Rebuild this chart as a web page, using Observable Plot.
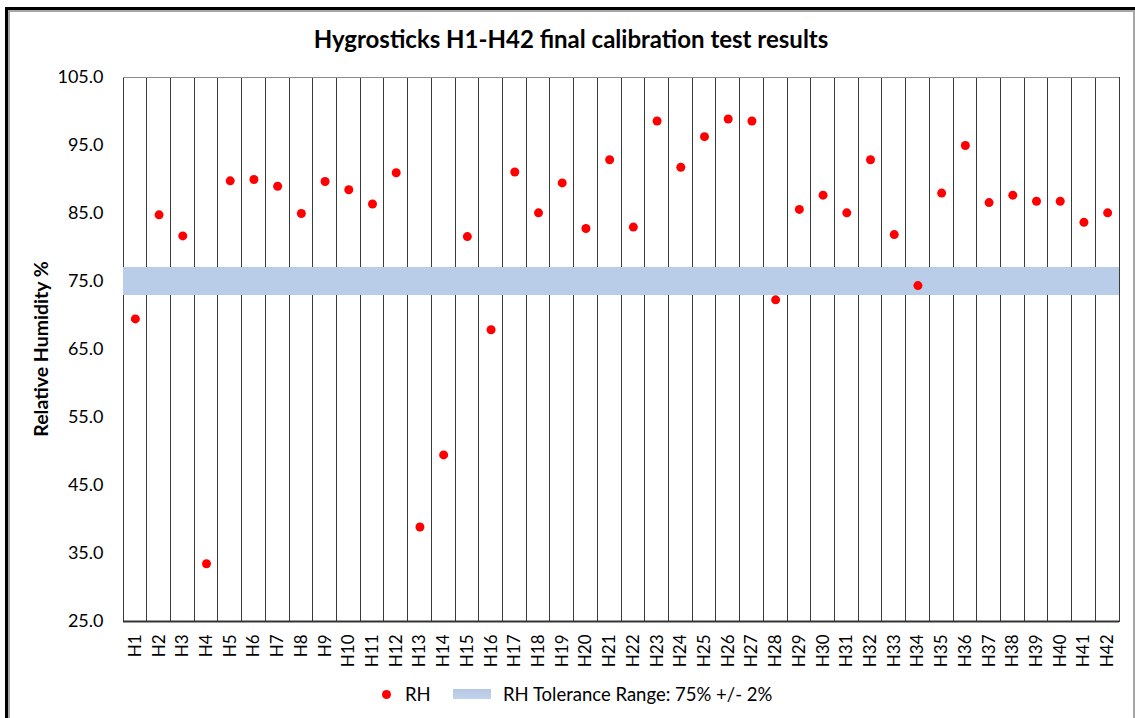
<!DOCTYPE html>
<html>
<head>
<meta charset="utf-8">
<script src="https://cdn.jsdelivr.net/npm/d3@7"></script>
<script src="https://cdn.jsdelivr.net/npm/@observablehq/plot@0.6"></script>
<style>
  body { margin: 0; background: #fff; }
  #wrap { position: relative; width: 1135px; height: 718px; overflow: hidden; background: #fff; font-family: Lato, "Open Sans", sans-serif; }
  #chart { position: absolute; left: 0; top: 0; }
  .abs { position: absolute; white-space: nowrap; line-height: 1; color: #000; }
</style>
</head>
<body>
<div id="wrap">
  <div id="chart"></div>
  <div class="abs" style="left:5px;top:7px;width:2000px;height:2000px;border-top:3px solid #000;border-left:3px solid #000;"></div>
  <div class="abs" style="left:8px;top:10px;width:1127px;height:1000px;box-sizing:border-box;border:2px solid #a6a6a6;"></div>
  <div class="abs" id="title" style="left:571px;top:27px;transform:translateX(-50%);font-weight:700;font-size:24px;">Hygrosticks H1-H42 final calibration test results</div>
  <div class="abs" id="ylabel" style="left:40.5px;top:348.5px;transform:translate(-50%,-50%) rotate(-90deg);font-weight:700;font-size:19.5px;">Relative Humidity %</div>
  <div class="abs" style="left:382.2px;top:689.5px;width:9px;height:9px;border-radius:50%;background:#ff0000;"></div>
  <div class="abs" style="left:405px;top:685px;font-size:18.5px;">RH</div>
  <div class="abs" style="left:453px;top:689px;width:38px;height:10px;background:linear-gradient(#b4c7e4,#c1d3ec);"></div>
  <div class="abs" style="left:503px;top:685px;font-size:18.5px;">RH Tolerance Range: 75% +/- 2%</div>
</div>
<script>
const categories = ["H1","H2","H3","H4","H5","H6","H7","H8","H9","H10","H11","H12","H13","H14","H15","H16","H17","H18","H19","H20","H21","H22","H23","H24","H25","H26","H27","H28","H29","H30","H31","H32","H33","H34","H35","H36","H37","H38","H39","H40","H41","H42"];
const rhValues = [69.5,84.8,81.7,33.5,89.8,90.0,89.0,85.0,89.7,88.5,86.4,91.0,38.9,49.5,81.6,67.9,91.1,85.1,89.5,82.8,92.9,83.0,98.6,91.8,96.3,98.9,98.6,72.3,85.6,87.7,85.1,92.9,81.9,74.4,88.0,95.0,86.6,87.7,86.8,86.8,83.7,85.1];
const yTicks = [25,35,45,55,65,75,85,95,105];
const yDomain = [25,105];
const toleranceLow = 73;
const toleranceHigh = 77;

const data = categories.map((c, i) => ({id: c, rh: rhValues[i]}));

const chart = Plot.plot({
  width: 1135,
  height: 680,
  marginTop: 77,
  marginBottom: 59,
  marginLeft: 123,
  marginRight: 16,
  style: {background: "transparent", fontFamily: "Lato, 'Open Sans', sans-serif", fontSize: "18px", color: "#000"},
  x: {type: "band", domain: categories, padding: 0},
  y: {domain: yDomain},
  marks: [
    Plot.barY(categories, {x: d => d, y1: yDomain[0], y2: yDomain[1], fill: "none", stroke: "#3a3a3a", strokeWidth: 1, shapeRendering: "crispEdges"}),
    Plot.barY(categories, {x: d => d, y1: toleranceLow, y2: toleranceHigh, fill: "#b9cce8", shapeRendering: "crispEdges"}),
    Plot.ruleY([yDomain[1]], {stroke: "#8c8c8c", strokeWidth: 1, shapeRendering: "crispEdges"}),
    Plot.ruleY([yDomain[0]], {stroke: "#333", strokeWidth: 2}),
    Plot.axisY({ticks: yTicks, tickFormat: d => d.toFixed(1), tickSize: 0, tickPadding: 20, label: null, fontSize: 18}),
    Plot.axisX({tickRotate: -90, tickSize: 0, tickPadding: 13, label: null, fontSize: 17}),
    Plot.dot(data, {x: "id", y: "rh", r: 4.5, fill: "#ff0000", stroke: "none"})
  ]
});
document.getElementById("chart").appendChild(chart);
</script>
</body>
</html>
